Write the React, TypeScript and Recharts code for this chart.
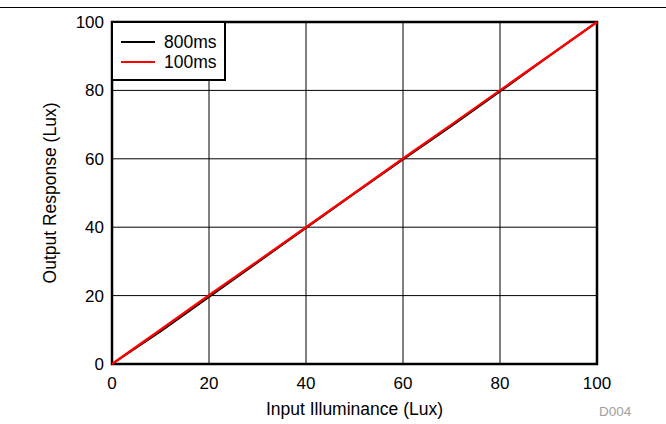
import React from 'react';
import { LineChart, Line, XAxis, YAxis, CartesianGrid, Legend, ReferenceArea, Label } from 'recharts';

const inputLux = [0, 10, 20, 30, 40, 50, 60, 70, 80, 90, 100];
const out800 = [0, 9.5, 19.6, 29.7, 39.8, 49.9, 59.8, 69.6, 79.7, 89.9, 100];
const out100 = [0, 10, 20.1, 30, 40, 50, 60.1, 70, 80, 90, 100];
const xTicks = [0, 20, 40, 60, 80, 100];
const yTicks = [0, 20, 40, 60, 80, 100];
const seriesNames = ['800ms', '100ms'];
const seriesColors = ['#000000', '#ff0000'];

const data = inputLux.map((x, i) => ({ x, s800: out800[i], s100: out100[i] }));

const FONT = '"Liberation Sans", Arial, sans-serif';

const LegendBox = () => (
  <div
    style={{
      width: 111,
      height: 56,
      border: '2px solid #000',
      background: '#fff',
      fontFamily: FONT,
      fontSize: 17.5,
      color: '#000',
      boxSizing: 'content-box',
    }}
  >
    {seriesNames.map((n, i) => (
      <div key={n} style={{ display: 'flex', alignItems: 'center', height: 20, marginTop: i === 0 ? 9 : 0 }}>
        <div style={{ marginLeft: 8, width: 34, height: 2, background: seriesColors[i] }} />
        <span style={{ marginLeft: 9, lineHeight: '20px' }}>{n}</span>
      </div>
    ))}
  </div>
);

export default function App() {
  return (
    <div style={{ position: 'absolute', left: 0, top: 0, width: 666, height: 424, background: '#fff' }}>
      <div style={{ position: 'absolute', left: 0, top: 7, width: 666, height: 0, borderTop: '1.5px solid #000' }} />
      <LineChart
        width={666}
        height={424}
        data={data}
        margin={{ top: 22, right: 69, left: 0, bottom: 0 }}
        style={{ fontFamily: FONT }}
      >
        <CartesianGrid stroke="#000" strokeWidth={1} />
        <XAxis
          dataKey="x"
          type="number"
          domain={[0, 100]}
          ticks={xTicks}
          height={60}
          tickLine={false}
          axisLine={false}
          tickSize={6}
          tickMargin={7}
          tick={{ fill: '#000', fontSize: 17, fontFamily: FONT }}
          interval={0}
        >
          <Label
            value="Input Illuminance (Lux)"
            position="insideBottom"
            offset={9}
            style={{ fill: '#000', fontSize: 17.5, fontFamily: FONT }}
          />
        </XAxis>
        <YAxis
          type="number"
          domain={[0, 100]}
          ticks={yTicks}
          width={112}
          tickLine={false}
          axisLine={false}
          tickSize={6}
          tickMargin={2}
          tick={{ fill: '#000', fontSize: 17, fontFamily: FONT }}
          interval={0}
        >
          <Label
            value="Output Response (Lux)"
            angle={-90}
            position="insideLeft"
            offset={50}
            style={{ fill: '#000', fontSize: 17.5, fontFamily: FONT, textAnchor: 'middle' }}
          />
        </YAxis>
        <ReferenceArea x1={0} x2={100} y1={0} y2={100} fill="none" fillOpacity={0} stroke="#000" strokeWidth={2.5} />
        <Line dataKey="s800" name={seriesNames[0]} stroke={seriesColors[0]} strokeWidth={2} dot={false} isAnimationActive={false} />
        <Line dataKey="s100" name={seriesNames[1]} stroke={seriesColors[1]} strokeWidth={2.3} dot={false} isAnimationActive={false} />
        <Legend
          content={() => <LegendBox />}
          layout="horizontal"
          align="center"
          verticalAlign="middle"
          wrapperStyle={{ left: 111, top: 21, width: 115, height: 60 }}
        />
      </LineChart>
      <div
        style={{
          position: 'absolute',
          left: 599,
          top: 404,
          fontFamily: FONT,
          fontSize: 13.5,
          color: '#a0a0a0',
        }}
      >
        D004
      </div>
    </div>
  );
}
